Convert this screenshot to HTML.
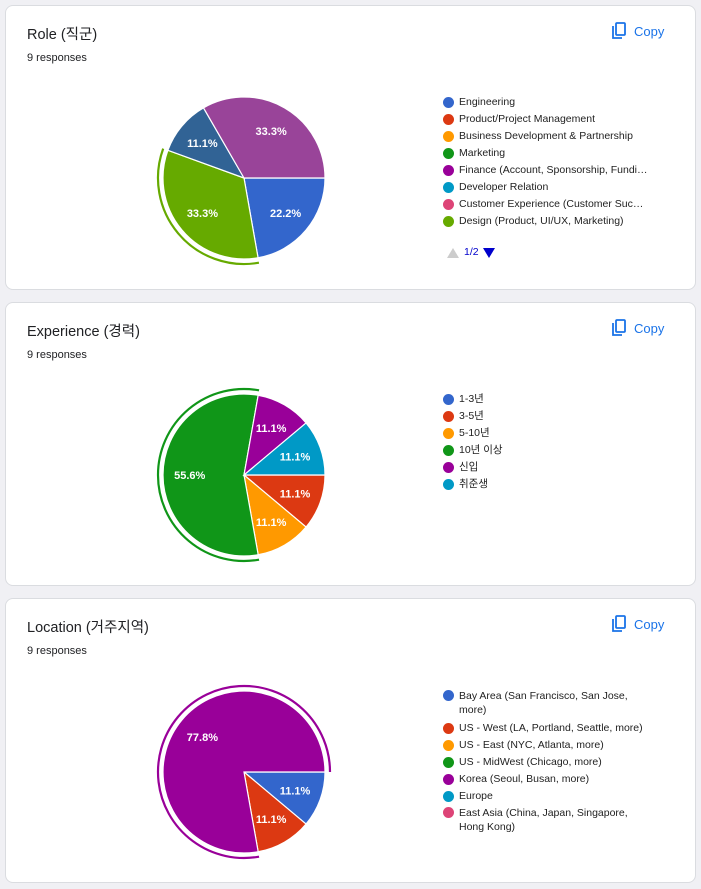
<!DOCTYPE html>
<html><head><meta charset="utf-8">
<style>
body{margin:0;background:#f0f0f4;width:701px;height:889px;overflow:hidden;font-family:"Liberation Sans","Noto Sans CJK KR",sans-serif;}
.card{position:absolute;left:5px;width:691px;background:#fff;border:1px solid #dadce0;border-radius:8px;box-sizing:border-box;}
.title{position:absolute;left:21px;top:17px;font-size:14.5px;color:#202124;}
.resp{position:absolute;left:21px;top:46px;font-size:11px;color:#202124;}
.copy{position:absolute;left:606px;top:16px;color:#1a73e8;font-size:13px;display:flex;align-items:center;gap:8px;}
.legend{position:absolute;left:437px;font-size:10.5px;color:#222;}
.li{position:relative;height:17px;line-height:17px;padding-left:16px;white-space:nowrap;}
.li .dot{position:absolute;left:0;top:3px;width:11px;height:11px;border-radius:50%;}
svg.pie{position:absolute;left:0;top:0;}
</style></head><body>
<div class="card" style="top:5px;height:285px">
 <div class="title">Role (직군)</div>
 <div class="resp">9 responses</div>
 <div class="copy"><svg width="14" height="18" viewBox="0 0 14 18"><rect x="4" y="1" width="9" height="12" rx="1" fill="none" stroke="#1a73e8" stroke-width="1.8"/><path d="M1 4v12h9" fill="none" stroke="#1a73e8" stroke-width="1.8"/></svg>Copy</div>
 <svg class="pie" id="pie1" width="430" height="285"></svg>
 <div class="legend" style="top:88px">
  <div class="li"><span class="dot" style="background:#3366cc"></span>Engineering</div>
  <div class="li"><span class="dot" style="background:#dc3912"></span>Product/Project Management</div>
  <div class="li"><span class="dot" style="background:#ff9900"></span>Business Development &amp; Partnership</div>
  <div class="li"><span class="dot" style="background:#109618"></span>Marketing</div>
  <div class="li"><span class="dot" style="background:#990099"></span>Finance (Account, Sponsorship, Fundi…</div>
  <div class="li"><span class="dot" style="background:#0099c6"></span>Developer Relation</div>
  <div class="li"><span class="dot" style="background:#dd4477"></span>Customer Experience (Customer Suc…</div>
  <div class="li"><span class="dot" style="background:#66aa00"></span>Design (Product, UI/UX, Marketing)</div>
  <div style="margin-top:16px;height:14px;position:relative;font-size:10.5px;color:#0000cc">
   <span style="position:absolute;left:4px;top:2px;width:0;height:0;border-left:6px solid transparent;border-right:6px solid transparent;border-bottom:10px solid #ccc"></span>
   <span style="position:absolute;left:21px;top:0">1/2</span>
   <span style="position:absolute;left:40px;top:2px;width:0;height:0;border-left:6px solid transparent;border-right:6px solid transparent;border-top:10px solid #0000cc"></span>
  </div>
 </div>
</div>
<div class="card" style="top:302px;height:284px">
 <div class="title">Experience (경력)</div>
 <div class="resp">9 responses</div>
 <div class="copy"><svg width="14" height="18" viewBox="0 0 14 18"><rect x="4" y="1" width="9" height="12" rx="1" fill="none" stroke="#1a73e8" stroke-width="1.8"/><path d="M1 4v12h9" fill="none" stroke="#1a73e8" stroke-width="1.8"/></svg>Copy</div>
 <svg class="pie" id="pie2" width="430" height="284"></svg>
 <div class="legend" style="top:88px">
  <div class="li"><span class="dot" style="background:#3366cc"></span>1-3년</div>
  <div class="li"><span class="dot" style="background:#dc3912"></span>3-5년</div>
  <div class="li"><span class="dot" style="background:#ff9900"></span>5-10년</div>
  <div class="li"><span class="dot" style="background:#109618"></span>10년 이상</div>
  <div class="li"><span class="dot" style="background:#990099"></span>신입</div>
  <div class="li"><span class="dot" style="background:#0099c6"></span>취준생</div>
 </div>
</div>
<div class="card" style="top:598px;height:285px">
 <div class="title">Location (거주지역)</div>
 <div class="resp">9 responses</div>
 <div class="copy"><svg width="14" height="18" viewBox="0 0 14 18"><rect x="4" y="1" width="9" height="12" rx="1" fill="none" stroke="#1a73e8" stroke-width="1.8"/><path d="M1 4v12h9" fill="none" stroke="#1a73e8" stroke-width="1.8"/></svg>Copy</div>
 <svg class="pie" id="pie3" width="430" height="285"></svg>
 <div class="legend" style="top:89px;width:210px">
  <div class="li" style="white-space:normal;height:auto;line-height:14px;padding-bottom:3px;padding-top:1px"><span class="dot" style="background:#3366cc;top:2px"></span>Bay Area (San Francisco, San Jose, more)</div>
  <div class="li"><span class="dot" style="background:#dc3912"></span>US - West (LA, Portland, Seattle, more)</div>
  <div class="li"><span class="dot" style="background:#ff9900"></span>US - East (NYC, Atlanta, more)</div>
  <div class="li"><span class="dot" style="background:#109618"></span>US - MidWest (Chicago, more)</div>
  <div class="li"><span class="dot" style="background:#990099"></span>Korea (Seoul, Busan, more)</div>
  <div class="li"><span class="dot" style="background:#0099c6"></span>Europe</div>
  <div class="li" style="white-space:normal;height:auto;line-height:14px;padding-top:1px"><span class="dot" style="background:#dd4477;top:2px"></span>East Asia (China, Japan, Singapore, Hong Kong)</div>
 </div>
</div>
<script>
const roleCategories=["Engineering","Design","Role page2 A","Role page2 B"];
const roleValues=[22.2,33.3,11.1,33.3];
const roleColors=["#3366cc","#66aa00","#316395","#994499"];
const expCategories=["3-5년","5-10년","10년 이상","신입","취준생"];
const expValues=[11.1,11.1,55.6,11.1,11.1];
const expColors=["#dc3912","#ff9900","#109618","#990099","#0099c6"];
const locCategories=["Bay Area","US - West","Korea"];
const locValues=[11.1,11.1,77.8];
const locColors=["#3366cc","#dc3912","#990099"];
const NS="http://www.w3.org/2000/svg";
function pt(cx,cy,r,a){return [cx+r*Math.cos(a),cy+r*Math.sin(a)];}
function drawPie(id,cats,vals,cols,cx,cy,r){
 const svg=document.getElementById(id);
 const tot=vals.reduce((a,b)=>a+b,0);
 let maxI=0;vals.forEach((v,i)=>{if(v>vals[maxI])maxI=i;});
 let a=0;
 vals.forEach((v,i)=>{
  const s=a,e=a+v/tot*2*Math.PI;a=e;
  const p1=pt(cx,cy,r,s),p2=pt(cx,cy,r,e),lg=(e-s)>Math.PI?1:0;
  const path=document.createElementNS(NS,"path");
  path.setAttribute("d",`M${cx},${cy}L${p1[0]},${p1[1]}A${r},${r} 0 ${lg} 1 ${p2[0]},${p2[1]}Z`);
  path.setAttribute("fill",cols[i]);path.setAttribute("stroke","#fff");path.setAttribute("stroke-width","1.2");
  
  
  svg.appendChild(path);
  if(i===maxI){
   const rr=r+5,q1=pt(cx,cy,rr,s),q2=pt(cx,cy,rr,e);
   const ring=document.createElementNS(NS,"path");
   ring.setAttribute("d",`M${q1[0]},${q1[1]}A${rr},${rr} 0 ${lg} 1 ${q2[0]},${q2[1]}`);
   ring.setAttribute("fill","none");ring.setAttribute("stroke",cols[i]);ring.setAttribute("stroke-width","2.2");
   
   
   svg.appendChild(ring);
  }
  const m=(s+e)/2,lp=pt(cx,cy,r*0.67,m);
  const t=document.createElementNS(NS,"text");
  t.setAttribute("x",lp[0]);t.setAttribute("y",lp[1]+4);t.setAttribute("text-anchor","middle");
  t.setAttribute("fill","#fff");t.setAttribute("font-size","11");t.setAttribute("font-weight","bold");
  t.setAttribute("font-family","Liberation Sans, sans-serif");
  t.textContent=v.toFixed(1)+"%";
  
  
  svg.appendChild(t);
 });
}
drawPie("pie1",roleCategories,roleValues,roleColors,238,172,81);
drawPie("pie2",expCategories,expValues,expColors,238,172,81);
drawPie("pie3",locCategories,locValues,locColors,238,173,81);
</script>
</body></html>
